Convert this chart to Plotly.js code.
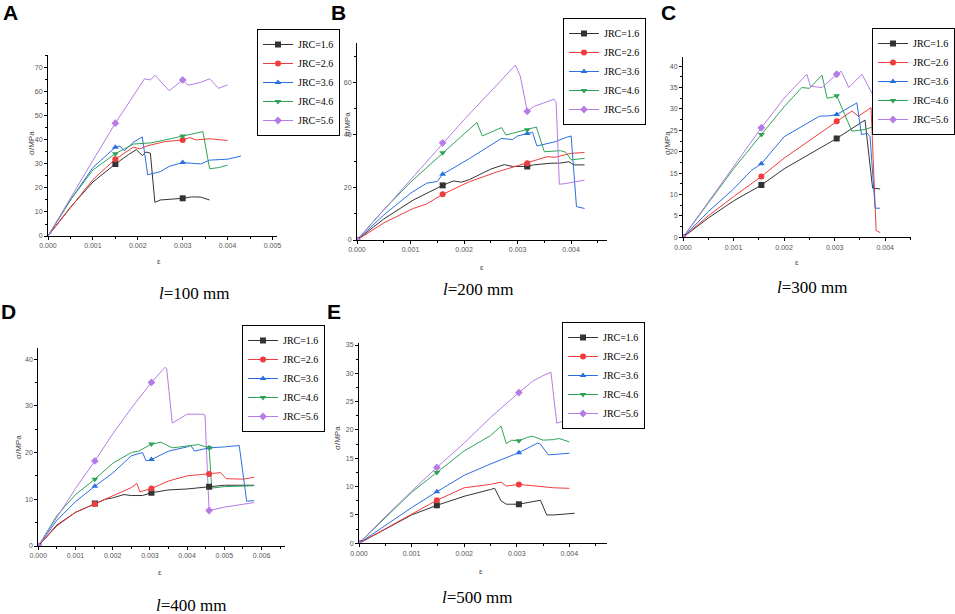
<!DOCTYPE html>
<html>
<head>
<meta charset="utf-8">
<script src="https://cdn.plot.ly/plotly-3.0.1.min.js"></script>
<style>html,body{margin:0;padding:0;background:#fff;}#chart{width:955px;height:614px;}</style>
</head>
<body>
<div id="chart"></div>
<script>
// ---- series meta ----
const seriesNames = ['JRC=1.6', 'JRC=2.6', 'JRC=3.6', 'JRC=4.6', 'JRC=5.6'];
const seriesColors = ['#333333', '#f03c3c', '#2a6fe0', '#2ea356', '#b57ce6'];
const seriesSymbols = ['square', 'circle', 'triangle-up', 'triangle-down', 'diamond'];
const panelCaptions = ['100', '200', '300', '400', '500'];
const panelLetters = ['A', 'B', 'C', 'D', 'E'];

// ---- Panel A: l = 100 mm ----
const epsA16 = [0, 0.0005, 0.001, 0.0015, 0.0018, 0.00197, 0.0021, 0.00218, 0.00228, 0.00238, 0.0025, 0.003, 0.0032, 0.0034, 0.0036];
const sigA16 = [0, 12, 22.5, 30, 34, 36, 33.5, 35, 34.5, 14, 15, 15.7, 16.3, 16.2, 15];
const epsA26 = [0, 0.0005, 0.001, 0.0015, 0.0019, 0.00205, 0.0022, 0.0026, 0.003, 0.00316, 0.0033, 0.0036, 0.004];
const sigA26 = [0, 12, 23.5, 32, 37, 36.3, 37.5, 39.3, 40, 41, 40, 40.5, 39.8];
const epsA36 = [0, 0.0005, 0.001, 0.0015, 0.0016, 0.0017, 0.0019, 0.0021, 0.00222, 0.0025, 0.0027, 0.003, 0.0034, 0.0036, 0.004, 0.0043];
const sigA36 = [0, 15, 28.5, 37, 37.5, 35.5, 39, 41.3, 25.5, 26.8, 29, 30.6, 30, 31.6, 32, 33.3];
const epsA46 = [0, 0.0005, 0.001, 0.0015, 0.0019, 0.0023, 0.0026, 0.003, 0.0033, 0.00345, 0.0036, 0.0038, 0.004];
const sigA46 = [0, 15, 27.5, 34.3, 38.3, 38.8, 40, 41.7, 43, 43.5, 28, 28.5, 29.5];
const epsA56 = [0, 0.0005, 0.001, 0.0015, 0.002, 0.00215, 0.00228, 0.00238, 0.0027, 0.003, 0.00312, 0.0034, 0.0036, 0.0038, 0.004];
const sigA56 = [0, 16, 31.5, 47, 61, 65.5, 65, 67, 60.5, 65, 62.8, 64, 65.5, 61.5, 63];
const markA = [0.0015, 0.003];

// ---- Panel B: l = 200 mm ----
const epsB16 = [0, 0.0005, 0.00105, 0.0016, 0.0018, 0.00195, 0.0021, 0.0025, 0.00275, 0.0029, 0.00318, 0.0033, 0.0036, 0.0038, 0.00396, 0.00405, 0.00425];
const sigB16 = [0, 8, 15.2, 20.8, 22.5, 22, 23, 27, 28.7, 28, 28, 28.6, 29.2, 29.3, 29.8, 28.6, 28.6];
const epsB26 = [0, 0.0005, 0.00105, 0.0013, 0.0016, 0.0021, 0.0026, 0.0029, 0.00318, 0.00355, 0.0037, 0.004, 0.00425];
const sigB26 = [0, 6.5, 12, 13.7, 17.4, 22.2, 25.8, 27.7, 29.2, 31.7, 31.5, 33, 33.3];
const epsB36 = [0, 0.0005, 0.001, 0.0013, 0.0015, 0.0016, 0.0021, 0.0027, 0.0029, 0.003, 0.00318, 0.00328, 0.00336, 0.0037, 0.0039, 0.004, 0.0041, 0.00425];
const sigB36 = [0, 9.5, 17.8, 21.6, 22.3, 25, 31, 38.7, 38.2, 39.6, 40.5, 41, 35.8, 37.4, 39, 39.6, 12.7, 12];
const epsB46 = [0, 0.0005, 0.001, 0.0016, 0.002, 0.00224, 0.00234, 0.0027, 0.00278, 0.0029, 0.00318, 0.00335, 0.0035, 0.0038, 0.0039, 0.004, 0.00425];
const sigB46 = [0, 11.5, 22, 33.2, 40.4, 44.7, 39.6, 42.8, 40, 40.6, 42, 43, 33.6, 34, 33.4, 30.5, 31.1];
const epsB56 = [0, 0.0005, 0.001, 0.0016, 0.002, 0.0025, 0.00296, 0.00305, 0.00318, 0.0033, 0.0036, 0.00368, 0.00372, 0.00378, 0.0039, 0.00425];
const sigB56 = [0, 11.5, 23, 37, 45.8, 56.6, 66.6, 62.4, 49, 50.8, 53, 53.6, 52.5, 21.2, 21.5, 22.8];
const markB = [0, 0.0016, 0.00318];

// ---- Panel C: l = 300 mm ----
const epsC16 = [0, 0.0005, 0.001, 0.00155, 0.002, 0.00304, 0.0036, 0.00375, 0.0039];
const sigC16 = [0, 4.5, 8.5, 12.2, 16, 23.1, 27.4, 11.5, 11.3];
const epsC26 = [0, 0.0005, 0.001, 0.00155, 0.002, 0.00304, 0.00334, 0.00347, 0.00372, 0.00382, 0.0039];
const sigC26 = [0, 5, 9.5, 14.2, 18.5, 27.1, 29.5, 28.3, 30.3, 1.6, 1.1];
const epsC36 = [0, 0.0005, 0.001, 0.00135, 0.00155, 0.002, 0.0027, 0.0029, 0.00304, 0.00344, 0.00353, 0.00365, 0.0037, 0.0038, 0.0039];
const sigC36 = [0, 6, 11.3, 15.6, 17.2, 23.5, 28.3, 28.4, 28.7, 31.4, 24, 24.3, 23.5, 6.8, 6.8];
const epsC46 = [0, 0.0005, 0.001, 0.00155, 0.002, 0.00235, 0.0025, 0.00275, 0.00285, 0.00298, 0.00304, 0.00334, 0.0036, 0.0038, 0.00403];
const sigC46 = [0, 8, 16, 24, 30.5, 35, 34.8, 37.9, 32.5, 32.8, 33.1, 24.8, 25.2, 26, 25.5];
const epsC56 = [0, 0.0005, 0.001, 0.00155, 0.002, 0.00245, 0.00252, 0.00275, 0.00304, 0.00313, 0.00328, 0.00354, 0.00374, 0.00384, 0.00397];
const sigC56 = [0, 8.3, 16.5, 25.6, 32.5, 38.1, 35.3, 35, 38.1, 38.8, 35, 38.1, 33.6, 34.6, 33.9];
const markC = [0, 0.00155, 0.00304];

// ---- Panel D: l = 400 mm ----
const epsD16 = [0, 0.0005, 0.001, 0.00152, 0.0018, 0.002, 0.0023, 0.0025, 0.0028, 0.00304, 0.0035, 0.004, 0.00459, 0.005, 0.0058];
const sigD16 = [0, 4.5, 7.2, 9.1, 10, 10.3, 11, 10.8, 10.8, 11.4, 12, 12.2, 12.7, 13, 13];
const epsD26 = [0, 0.0005, 0.001, 0.00152, 0.002, 0.0025, 0.00265, 0.00273, 0.00304, 0.0035, 0.004, 0.00459, 0.0049, 0.00505, 0.0055, 0.0058];
const sigD26 = [0, 4.3, 7.2, 9, 10.7, 12.5, 13.4, 11.6, 12.3, 13.9, 15, 15.4, 15.7, 14.4, 14.3, 14.7];
const epsD36 = [0, 0.0005, 0.001, 0.00152, 0.002, 0.0025, 0.0028, 0.0029, 0.00304, 0.0035, 0.004, 0.0041, 0.0042, 0.00459, 0.005, 0.0054, 0.0056, 0.0058];
const sigD36 = [0, 5.5, 9.5, 12.8, 15.6, 19.3, 20, 18.2, 18.5, 20.3, 21.2, 21.5, 20.3, 21, 21.2, 21.5, 9.6, 9.7];
const epsD46 = [0, 0.0005, 0.001, 0.00152, 0.002, 0.0025, 0.0027, 0.00304, 0.0033, 0.0036, 0.004, 0.0043, 0.00459, 0.00466, 0.005, 0.0058];
const sigD46 = [0, 6.5, 11, 14.3, 17.7, 20, 20.3, 21.8, 22.2, 21, 21.4, 21.7, 21, 12.4, 12.7, 12.9];
const epsD56 = [0, 0.0005, 0.001, 0.00152, 0.002, 0.0025, 0.00304, 0.0034, 0.00345, 0.0036, 0.004, 0.0044, 0.00448, 0.00459, 0.005, 0.0058];
const sigD56 = [0, 6.2, 12.3, 18.2, 24, 29.5, 35, 38.2, 38, 26.3, 28.2, 28.2, 28, 7.6, 8.3, 9.3];
const markD = [0, 0.00152, 0.00304, 0.00459];

// ---- Panel E: l = 500 mm ----
const epsE16 = [0, 0.0005, 0.001, 0.00148, 0.002, 0.0025, 0.00258, 0.0027, 0.0028, 0.00304, 0.0033, 0.00345, 0.00357, 0.0037, 0.0041];
const sigE16 = [0, 2.5, 5, 6.7, 8.3, 9.5, 9.7, 7.5, 6.9, 6.9, 7.3, 7.6, 5, 5, 5.3];
const epsE26 = [0, 0.0005, 0.001, 0.00148, 0.002, 0.0025, 0.0027, 0.0028, 0.00304, 0.0034, 0.0037, 0.004];
const sigE26 = [0, 2.6, 5.1, 7.6, 9.8, 10.4, 10.8, 10.1, 10.4, 10, 9.8, 9.7];
const epsE36 = [0, 0.0005, 0.001, 0.00148, 0.002, 0.0025, 0.00304, 0.0034, 0.00345, 0.0036, 0.0038, 0.004];
const sigE36 = [0, 3.2, 6.3, 9.1, 12, 14, 16, 17.7, 17.5, 15.6, 15.8, 15.9];
const epsE46 = [0, 0.0005, 0.001, 0.00148, 0.002, 0.0025, 0.0027, 0.0028, 0.0029, 0.00304, 0.0032, 0.0033, 0.0035, 0.0037, 0.0038, 0.004];
const sigE46 = [0, 4.5, 9, 12.5, 16.3, 19, 20.7, 17.6, 18.2, 18.1, 18.7, 18.9, 18.2, 18.3, 18.5, 17.9];
const epsE56 = [0, 0.0005, 0.001, 0.00148, 0.002, 0.0025, 0.00304, 0.0033, 0.0035, 0.00365, 0.00376, 0.004];
const sigE56 = [0, 4.7, 9.2, 13.4, 17.7, 22.2, 26.6, 28.6, 29.6, 30.2, 21.2, 21.9];
const markE = [0, 0.00148, 0.00304];

// ---- assemble ----
const W = 955, H = 614;
const SERIF = "'Liberation Serif', 'Times New Roman', 'DejaVu Serif', serif";
const SANS = "'Liberation Sans', Arial, sans-serif";
const panels = [
  {xa: 'x',  ya: 'y',  leg: 'legend',  eps: [epsA16, epsA26, epsA36, epsA46, epsA56], sig: [sigA16, sigA26, sigA36, sigA46, sigA56], mark: markA},
  {xa: 'x2', ya: 'y2', leg: 'legend2', eps: [epsB16, epsB26, epsB36, epsB46, epsB56], sig: [sigB16, sigB26, sigB36, sigB46, sigB56], mark: markB},
  {xa: 'x3', ya: 'y3', leg: 'legend3', eps: [epsC16, epsC26, epsC36, epsC46, epsC56], sig: [sigC16, sigC26, sigC36, sigC46, sigC56], mark: markC},
  {xa: 'x4', ya: 'y4', leg: 'legend4', eps: [epsD16, epsD26, epsD36, epsD46, epsD56], sig: [sigD16, sigD26, sigD36, sigD46, sigD56], mark: markD},
  {xa: 'x5', ya: 'y5', leg: 'legend5', eps: [epsE16, epsE26, epsE36, epsE46, epsE56], sig: [sigE16, sigE26, sigE36, sigE46, sigE56], mark: markE}
];

const traces = [];
panels.forEach(p => {
  for (let i = 0; i < 5; i++) {
    traces.push({
      type: 'scatter', mode: 'lines', x: p.eps[i], y: p.sig[i],
      xaxis: p.xa, yaxis: p.ya, showlegend: false, hoverinfo: 'skip',
      line: {color: seriesColors[i], width: 1}
    });
  }
  for (let i = 0; i < 5; i++) {
    const mx = [], my = [];
    p.eps[i].forEach((e, k) => {
      if (p.mark.some(m => Math.abs(m - e) < 1e-9)) {
        if (mx.length) { mx.push(null); my.push(null); }
        mx.push(e); my.push(p.sig[i][k]);
      }
    });
    traces.push({
      type: 'scatter', mode: 'lines+markers', x: mx, y: my, connectgaps: false,
      xaxis: p.xa, yaxis: p.ya, name: seriesNames[i], legend: p.leg, showlegend: true,
      line: {color: seriesColors[i], width: 1},
      marker: {symbol: seriesSymbols[i], size: 6, color: seriesColors[i]}
    });
  }
});

function px(x) { return x / W; }
function py(y) { return 1 - y / H; }

function xAxis(l, r, range, anchor) {
  return {
    domain: [px(l), px(r)], range: range, anchor: anchor,
    dtick: 0.001, tick0: 0, tickformat: '.3f',
    showgrid: false, zeroline: false, showline: true, linecolor: '#000', linewidth: 1,
    ticks: 'outside', ticklen: 3, tickwidth: 1, tickcolor: '#000',
    tickfont: {family: SANS, size: 7, color: '#555'},
    minor: {dtick: 0.0005, tick0: 0, ticks: 'outside', ticklen: 2, tickcolor: '#000', showgrid: false},
    fixedrange: true
  };
}
function yAxis(bottom, top, range, dtick, minor, anchor) {
  return {
    domain: [py(bottom), py(top)], range: range, anchor: anchor,
    dtick: dtick, tick0: 0, tickformat: 'd',
    showgrid: false, zeroline: false, showline: true, linecolor: '#000', linewidth: 1,
    ticks: 'outside', ticklen: 3, tickwidth: 1, tickcolor: '#000',
    tickfont: {family: SANS, size: 7, color: '#555'},
    minor: {dtick: minor, tick0: 0, ticks: 'outside', ticklen: 2, tickcolor: '#000', showgrid: false},
    fixedrange: true
  };
}

function legendAt(x, y, xanchor) {
  return {
    x: x, y: y, xanchor: xanchor || 'left', yanchor: 'top',
    bgcolor: '#ffffff', bordercolor: '#000', borderwidth: 1,
    font: {family: SERIF, size: 10, color: '#000'},
    itemwidth: 30, tracegroupgap: 0, traceorder: 'normal'
  };
}

const annotations = [];
function ann(text, x, y, opts) {
  annotations.push(Object.assign({
    text: text, xref: 'paper', yref: 'paper', x: px(x), y: py(y),
    xanchor: 'center', yanchor: 'middle', showarrow: false
  }, opts || {}));
}
const letterPos = [[10, 12], [338, 12], [668, 12], [8, 311], [334, 311]];
const yTitlePos = [[31, 143], [348, 124], [667, 143], [18, 447], [337, 438]];
const epsPos = [[159, 261], [482, 267], [797, 262], [160, 572], [481, 571]];
const capPos = [[194, 293], [478, 289], [812, 287], [191, 605], [477, 597]];
for (let k = 0; k < 5; k++) {
  ann('<b>' + panelLetters[k] + '</b>', letterPos[k][0], letterPos[k][1], {font: {family: SANS, size: 21, color: '#000'}});
  ann('σ/MPa', yTitlePos[k][0], yTitlePos[k][1], {textangle: -90, font: {family: SANS, size: 8, color: '#444'}});
  ann('ε', epsPos[k][0], epsPos[k][1], {font: {family: SANS, size: 8, color: '#444'}});
  ann('<i>l</i>=' + panelCaptions[k] + ' mm', capPos[k][0], capPos[k][1], {font: {family: SERIF, size: 17, color: '#000'}});
}

const layout = {
  width: W, height: H,
  margin: {l: 0, r: 0, t: 0, b: 0},
  paper_bgcolor: '#ffffff', plot_bgcolor: 'rgba(0,0,0,0)',
  xaxis:  xAxis(48, 277, [0, 0.0051], 'y'),
  yaxis:  yAxis(236, 55, [0, 75.4], 10, 5, 'x'),
  xaxis2: xAxis(357, 607, [0, 0.00467], 'y2'),
  yaxis2: yAxis(240, 43, [0, 75], 20, 10, 'x2'),
  xaxis3: xAxis(683, 911, [0, 0.00451], 'y3'),
  yaxis3: yAxis(237.3, 56.7, [0, 42.2], 5, 2.5, 'x3'),
  xaxis4: xAxis(38.3, 285, [0, 0.00663], 'y4'),
  yaxis4: yAxis(546, 348.3, [0, 42.3], 10, 5, 'x4'),
  xaxis5: xAxis(359, 606.7, [0, 0.00471], 'y5'),
  yaxis5: yAxis(543.3, 343.3, [0, 35.3], 5, 2.5, 'x5'),
  legend:  legendAt(px(257), py(29)),
  legend2: legendAt(px(563), py(18)),
  legend3: legendAt(1, py(28), 'right'),
  legend4: legendAt(px(242), py(325)),
  legend5: legendAt(px(562), py(322)),
  annotations: annotations,
  showlegend: true
};

Plotly.newPlot('chart', traces, layout, {displayModeBar: false, staticPlot: true});
</script>
</body>
</html>
